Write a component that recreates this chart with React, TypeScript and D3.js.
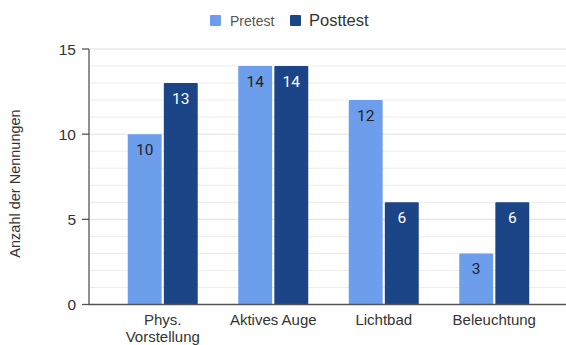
import React from "react";
import * as d3 from "d3";

const categories: string[][] = [["Phys.", "Vorstellung"], ["Aktives Auge"], ["Lichtbad"], ["Beleuchtung"]];
const seriesNames = ["Pretest", "Posttest"];
const pretest = [10, 14, 12, 3];
const posttest = [13, 14, 6, 6];
const yTicks = [0, 5, 10, 15];
const yLabel = "Anzahl der Nennungen";

const colors = ["#6d9eeb", "#1c4587"];
const labelColors = ["#222222", "#ffffff"];

export default function App() {
  const W = 566, H = 345;
  const axisX = 89;
  const plotRight = 566;
  const yTop = 49, yBottom = 304.5;
  const x = d3.scaleBand<number>().domain(d3.range(categories.length)).range([107.5, 549.5]);
  const inner = d3.scaleBand<number>().domain([0, 1]).range([0, 70]).paddingInner(0.06);
  const y = d3.scaleLinear().domain([0, 15]).range([yBottom, yTop]);
  const minor = d3.range(0, 16);
  const series = [pretest, posttest];
  const font = "'Liberation Sans', Arial, sans-serif";

  return (
    <div style={{ position: "fixed", left: 0, top: 0 }}>
      <svg width={W} height={H} style={{ display: "block", background: "#fff" }} fontFamily={font}>
        {minor.map((v) => (
          <line key={"g" + v} x1={axisX} x2={plotRight} y1={y(v)} y2={y(v)}
            stroke={v % 5 === 0 ? "#e0e0e0" : "#ececec"} strokeWidth={1} />
        ))}
        {series.map((vals, si) =>
          vals.map((v, ci) => {
            const bx = (x(ci) as number) + (x.bandwidth() - 70) / 2 + (inner(si) as number);
            const bw = inner.bandwidth();
            return (
              <g key={si + "-" + ci}>
                <rect x={bx} y={y(v)} width={bw} height={y(0) - y(v)} fill={colors[si]} rx={1} />
                <text x={bx + bw / 2} y={y(v) + 20.5} textAnchor="middle" fontSize={15.5}
                  fontFamily="Roboto, sans-serif" fill={labelColors[si]}>{v}</text>
              </g>
            );
          })
        )}
        <line x1={axisX} x2={axisX} y1={yTop} y2={yBottom} stroke="#555" strokeWidth={1.3} />
        <line x1={axisX - 0.5} x2={plotRight} y1={yBottom} y2={yBottom} stroke="#555" strokeWidth={1.3} />
        {yTicks.map((t) => (
          <g key={"t" + t}>
            <line x1={axisX - 7} x2={axisX} y1={y(t)} y2={y(t)} stroke="#555" strokeWidth={1.3} />
            <text x={axisX - 13} y={y(t) + 5.5} textAnchor="end" fontSize={15.5} fill="#333">{t}</text>
          </g>
        ))}
        {categories.map((lines, ci) =>
          lines.map((l, li) => (
            <text key={"c" + ci + "-" + li} x={(x(ci) as number) + x.bandwidth() / 2} y={325 + li * 16.5}
              textAnchor="middle" fontSize={15} fill="#333">{l}</text>
          ))
        )}
        <text transform={`translate(20,183.5) rotate(-90)`} textAnchor="middle" fontSize={14.5} fill="#333">{yLabel}</text>
        <rect x={210} y={15} width={11} height={11} rx={1} fill={colors[0]} />
        <text x={230} y={25.5} fontSize={14} fill="#555">{seriesNames[0]}</text>
        <rect x={290} y={15} width={11} height={11} rx={1} fill={colors[1]} />
        <text x={309} y={26} fontSize={16.5} fill="#333">{seriesNames[1]}</text>
      </svg>
    </div>
  );
}
